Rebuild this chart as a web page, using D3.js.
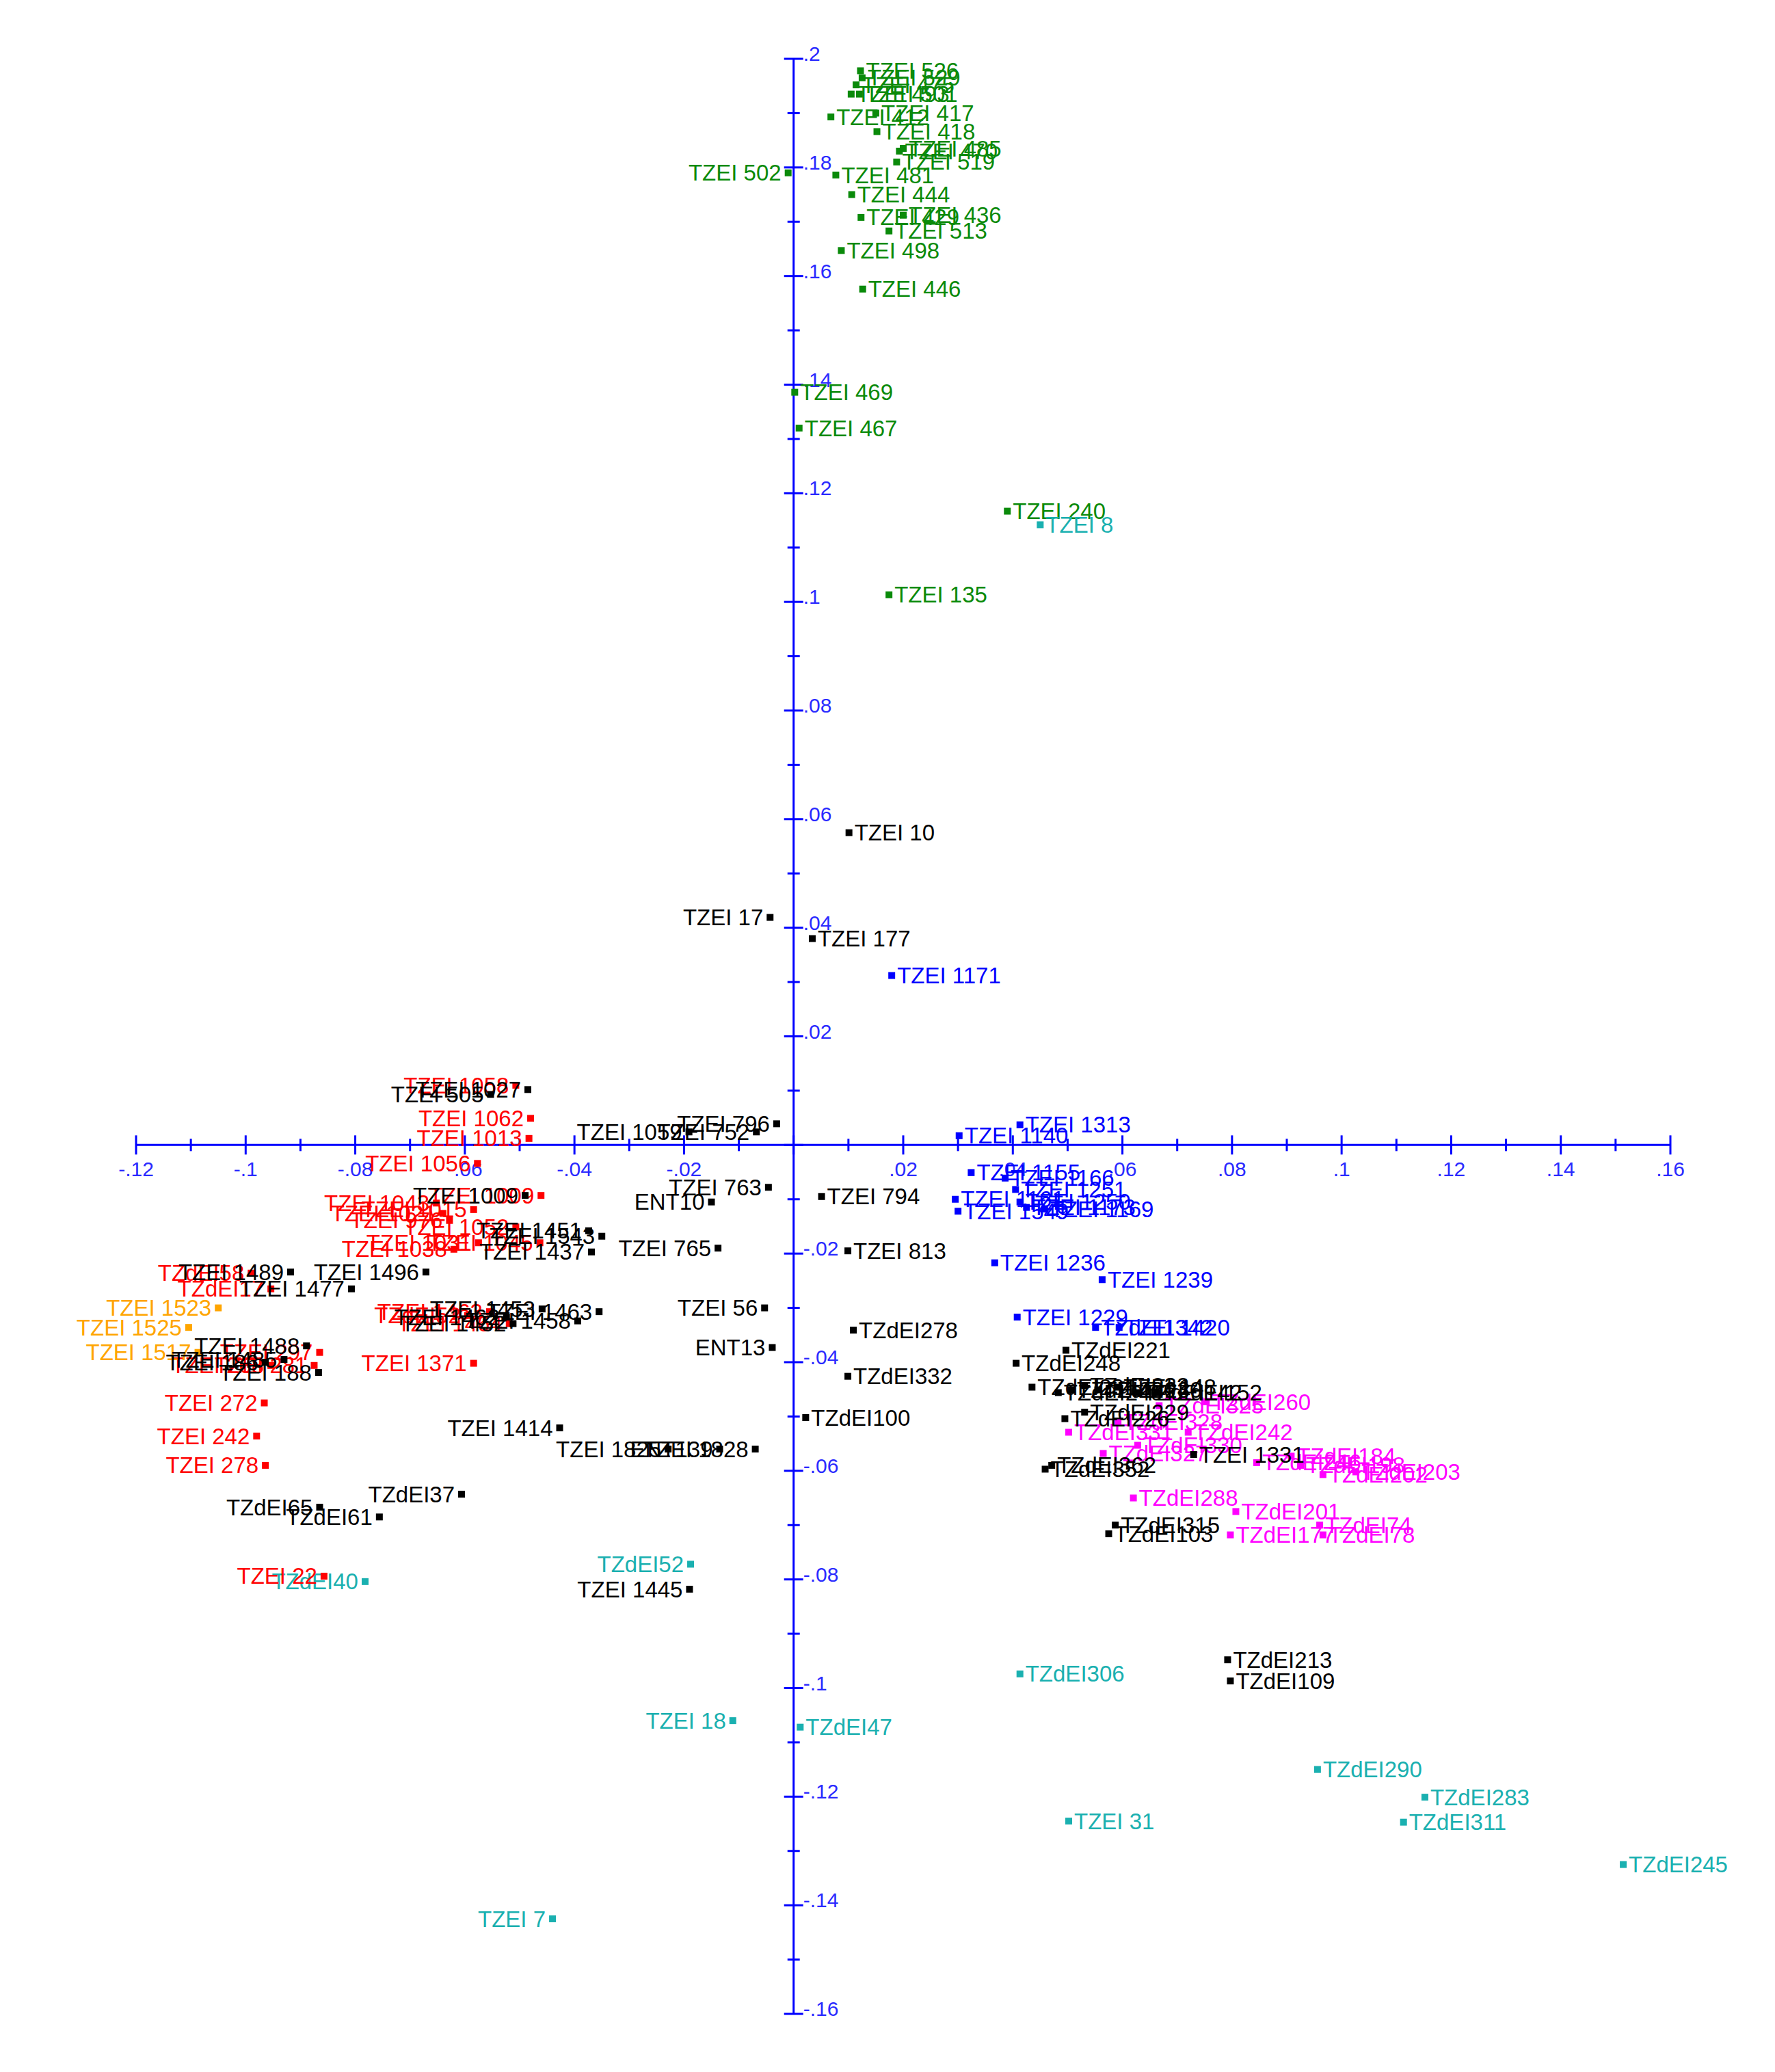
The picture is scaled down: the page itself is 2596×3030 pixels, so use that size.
<!DOCTYPE html>
<html><head><meta charset="utf-8">
<script src="https://cdn.jsdelivr.net/npm/d3@7"></script>
<style>body{margin:0;background:#fff}</style></head>
<body><svg id="c" width="2596" height="3030"></svg>
<script>
const xTicks=[-0.12,-0.1,-0.08,-0.06,-0.04,-0.02,0.02,0.04,0.06,0.08,0.1,0.12,0.14,0.16];
const xTickLabels=["-.12","-.1","-.08","-.06","-.04","-.02",".02",".04",".06",".08",".1",".12",".14",".16"];
const yTicks=[0.2,0.18,0.16,0.14,0.12,0.1,0.08,0.06,0.04,0.02,-0.02,-0.04,-0.06,-0.08,-0.1,-0.12,-0.14,-0.16];
const yTickLabels=[".2",".18",".16",".14",".12",".1",".08",".06",".04",".02","-.02","-.04","-.06","-.08","-.1","-.12","-.14","-.16"];
// [label, x, y]
const green=[
["TZEI 502",-0.001,0.179],["TZEI 446",0.0126,0.1576],["TZEI 498",0.0087,0.1647],["TZEI 513",0.0174,0.1683],
["TZEI 429",0.0123,0.1708],["TZEI 436",0.0200,0.1712],["TZEI 444",0.0106,0.175],["TZEI 481",0.0077,0.1786],
["TZEI 519",0.0188,0.181],["TZEI 470",0.0193,0.183],["TZEI 485",0.0200,0.1835],["TZEI 418",0.0152,0.1866],
["TZEI 412",0.0068,0.1893],["TZEI 417",0.0150,0.190],["TZEI 493",0.0105,0.1935],["TZEI 501",0.0120,0.1935],
["TZEI 475",0.0114,0.1952],["TZEI 529",0.0125,0.1965],["TZEI 526",0.0122,0.1978],["TZEI 469",0.0002,0.1386],
["TZEI 467",0.001,0.132],["TZEI 240",0.039,0.1167],["TZEI 135",0.0174,0.1013]];
const teal=[
["TZEI 8",0.045,0.1142],["TZdEI52",-0.0188,-0.0772],["TZdEI40",-0.0782,-0.0804],["TZEI 18",-0.0111,-0.106],
["TZdEI47",0.0012,-0.1072],["TZdEI306",0.0413,-0.0974],["TZEI 31",0.0502,-0.1245],["TZdEI290",0.0956,-0.115],
["TZdEI283",0.1152,-0.1201],["TZdEI311",0.1113,-0.1247],["TZdEI245",0.1514,-0.1325],["TZEI 7",-0.044,-0.1425]];
const blue=[
["TZEI 1171",0.0179,0.0312],["TZEI 1140",0.0302,0.0017],["TZEI 1313",0.0413,0.0037],
["TZEI 1166",0.0386,-0.0061],["TZEI 1155",0.0324,-0.0051],["TZEI 1161",0.0295,-0.0100],["TZEI 1549",0.0300,-0.0122],
["TZEI 1251",0.0405,-0.0082],["TZEI 1250",0.0413,-0.0105],["TZEI 1173",0.0425,-0.0115],["TZEI 1169",0.0458,-0.0118],
["TZEI 1236",0.0367,-0.0217],["TZEI 1239",0.0563,-0.0248],["TZEI 1229",0.0408,-0.0317],["TZdEI1342",0.0551,-0.0336],["TZEI 1420",0.0594,-0.0336]];
const magenta=[
["TZdEI260",0.0753,-0.0473],["TZdEI328",0.0592,-0.051],["TZdEI325",0.0667,-0.048],["TZdEI331",0.0502,-0.0529],
["TZdEI327",0.0565,-0.0568],["TZdEI330",0.0628,-0.0553],["TZdEI242",0.0720,-0.0529],["TZdEI246",0.0845,-0.0585],
["TZdEI184",0.0908,-0.0573],["TZdEI198",0.0925,-0.059],["TZdEI202",0.0966,-0.0607],["TZdEI203",0.1026,-0.0602],
["TZdEI288",0.062,-0.065],["TZdEI201",0.0807,-0.0675],["TZdEI74",0.096,-0.07],["TZdEI177",0.0797,-0.0718],["TZdEI78",0.0966,-0.0718]];
const red=[
["TZEI 1058",-0.0507,0.011],["TZEI 1062",-0.048,0.0049],["TZEI 1013",-0.0483,0.0012],["TZEI 1056",-0.0577,-0.0034],
["TZEI 1009",-0.0461,-0.0093],["TZEI 1052",-0.0507,-0.0151],["TZEI 1015",-0.0584,-0.0119],["TZEI 1021",-0.0640,-0.0126],
["TZEI 1043",-0.0652,-0.0107],["TZEI 976",-0.0628,-0.0139],["TZEI 1031",-0.0575,-0.0180],["TZEI 1045",-0.0463,-0.0180],
["TZEI 1038",-0.062,-0.0192],["TZdEI17",-0.0954,-0.0265],["TZdEI58",-0.099,-0.0236],["TZdEI52",-0.0595,-0.0314],
["TZEI 1463",-0.0555,-0.0307],["TZEI 1464",-0.0519,-0.0329],["TZEI 1371",-0.0584,-0.0402],["TZEI 297",-0.0865,-0.0382],
["TZEI 281",-0.0875,-0.0406],["TZEI 268",-0.0954,-0.0406],["TZEI 272",-0.0966,-0.0475],["TZEI 242",-0.098,-0.0536],
["TZEI 278",-0.0964,-0.059],["TZEI 22",-0.0857,-0.0794]];
const orange=[["TZEI 1523",-0.105,-0.03],["TZEI 1525",-0.1104,-0.0336],["TZEI 1517",-0.1087,-0.0382]];
const black=[
["TZEI 10",0.0101,0.0575],["TZEI 17",-0.0043,0.0419],["TZEI 177",0.0034,0.038],
["TZEI 1027",-0.0485,0.0102],["TZEI 505",-0.0553,0.0093],["TZEI 1059",-0.0191,0.0024],["TZEI 752",-0.0068,0.0024],["TZEI 796",-0.0031,0.0039],
["TZEI 763",-0.0046,-0.0078],["ENT10",-0.015,-0.0105],["TZEI 794",0.0051,-0.0095],["TZEI 765",-0.0138,-0.019],
["TZEI 813",0.0099,-0.0195],["TZEI 56",-0.0053,-0.03],["ENT13",-0.0039,-0.0373],["TZdEI278",0.0109,-0.0341],
["TZdEI332",0.0099,-0.0426],["TZdEI100",0.0022,-0.0502],["TZEI 1414",-0.0427,-0.0521],["TZEI 1825",-0.0229,-0.056],
["ENT139",-0.0135,-0.056],["TZEI 1828",-0.0070,-0.056],["TZdEI37",-0.0606,-0.0643],["TZdEI65",-0.0865,-0.0667],
["TZdEI61",-0.0756,-0.0685],["TZEI 1445",-0.019,-0.0818],["TZEI 1009b",-0.049,-0.0093],["TZEI 1451",-0.0374,-0.0158],
["TZEI 1543",-0.0350,-0.0168],["TZEI 1437",-0.0369,-0.0197],["TZEI 1463b",-0.0355,-0.0307],["TZEI 1458",-0.0394,-0.0324],
["TZEI 1453",-0.0459,-0.0302],["TZEI 1452",-0.0512,-0.0329],["TZEI 1462",-0.0524,-0.0317],["TZEI 1496",-0.0671,-0.0234],
["TZEI 1477",-0.0807,-0.0265],["TZEI 1489",-0.0918,-0.0234],["TZEI 1488",-0.0889,-0.037],["TZEI 188",-0.0867,-0.0419],
["TZEI 186",-0.0964,-0.040],["TZEI 1485",-0.0930,-0.0395],
["TZdEI213",0.0792,-0.0948],["TZdEI109",0.0797,-0.0987],["TZdEI315",0.0587,-0.07],["TZdEI103",0.0575,-0.0716],
["TZdEI352",0.0459,-0.0597],["TZdEI362",0.0471,-0.0590],["TZEI 1331",0.073,-0.057],["TZdEI221",0.0497,-0.0378],
["TZdEI248",0.0406,-0.0402],["TZdEI240",0.0483,-0.0456],["TZdEI236",0.0507,-0.0451],["TZdEI232",0.0531,-0.0443],
["TZdEI230",0.0555,-0.0451],["TZEI 148",0.0592,-0.0446],["TZdEI142",0.0628,-0.0456],["TZdEI152",0.0664,-0.0456],
["TZdEI226",0.0495,-0.0504],["TZdEI229",0.0531,-0.0492],["TZdEI231",0.0435,-0.0446]];
const groups=[[green,"#0a8a0a"],[teal,"#1ab0b0"],[blue,"#0000ff"],[magenta,"#ff00ff"],[red,"#ff0000"],[orange,"#ffa500"],[black,"#000000"]];
const svg=d3.select("#c");
const x=d3.scaleLinear().domain([-0.12,0.16]).range([199,2443]);
const y=d3.scaleLinear().domain([0.2,-0.16]).range([86,2945]);
const axCol="#0000ff";
const gx=svg.append("g").attr("transform",`translate(0,${y(0)})`);
gx.append("line").attr("x1",x(-0.12)).attr("x2",x(0.16)).attr("stroke",axCol).attr("stroke-width",3);
const minorX=d3.range(-12,17).map(i=>i/100);
gx.selectAll("line.t").data(minorX).join("line").attr("x1",d=>x(d)).attr("x2",d=>x(d))
 .attr("y1",(d,i)=>i%2==0?-14:-9).attr("y2",(d,i)=>i%2==0?14:9).attr("stroke",axCol).attr("stroke-width",3);
gx.selectAll("text").data(xTicks).join("text").attr("x",d=>x(d)).attr("y",46).attr("text-anchor","middle")
 .attr("font-family","Liberation Sans, Arial").attr("font-size",30).attr("fill","#2a2aff").text((d,i)=>xTickLabels[i]);
const gy=svg.append("g").attr("transform",`translate(${x(0)},0)`);
gy.append("line").attr("y1",y(0.2)).attr("y2",y(-0.16)).attr("stroke",axCol).attr("stroke-width",3);
const minorY=d3.range(-16,21).map(i=>i/100);
gy.selectAll("line.t").data(minorY).join("line").attr("y1",d=>y(d)).attr("y2",d=>y(d))
 .attr("x1",(d,i)=>i%2==0?-14:-9).attr("x2",(d,i)=>i%2==0?14:9).attr("stroke",axCol).attr("stroke-width",3);
gy.selectAll("text").data(yTicks).join("text").attr("x",14).attr("y",d=>y(d)).attr("dy","0.1em")
 .attr("font-family","Liberation Sans, Arial").attr("font-size",30).attr("fill","#2a2aff").text((d,i)=>yTickLabels[i]);
for(const [arr,col] of groups){
  const g=svg.append("g");
  g.selectAll("rect").data(arr).join("rect").attr("x",d=>x(d[1])-5).attr("y",d=>y(d[2])-5)
   .attr("width",10).attr("height",10).attr("fill",col);
  g.selectAll("text").data(arr).join("text")
   .attr("x",d=>d[1]<0?x(d[1])-10:x(d[1])+8).attr("y",d=>y(d[2])).attr("dy","0.35em")
   .attr("text-anchor",d=>d[1]<0?"end":"start")
   .attr("font-family","Liberation Sans, Arial").attr("font-size",33).attr("fill",col)
   .text(d=>d[0].replace(/b$/,""));
}
</script></body></html>
